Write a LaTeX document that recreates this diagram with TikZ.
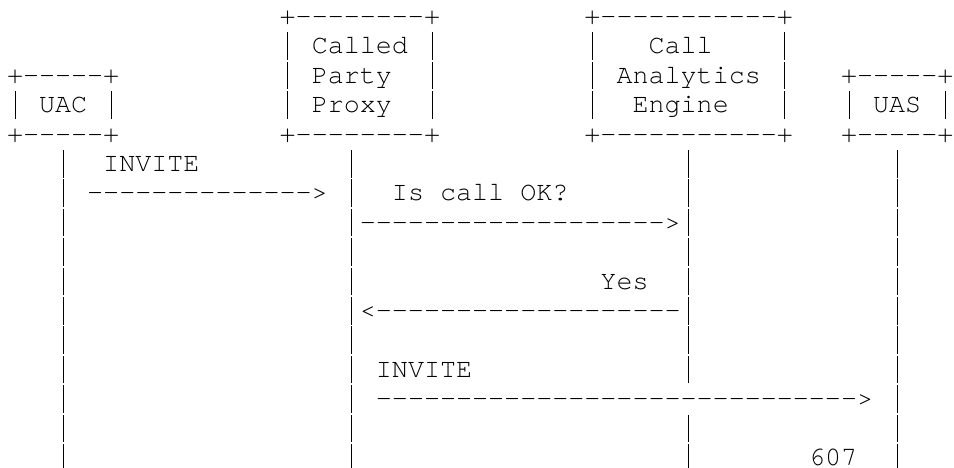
\documentclass[tikz,border=0pt]{standalone}
\usepackage{fontspec}
\setmonofont{texgyrecursor-regular.otf}
\usepackage{tikz}
\tikzset{
  ascii/.style    = { font=\ttfamily\fontsize{26.73bp}{29.39bp}\selectfont,
                      anchor=base west, inner sep=0pt, outer sep=0pt },
  lifeline/.style = { ascii },
  message/.style  = { ascii },
}
% a bar as tall as the reference's
\newcommand\vb{\makebox[0.6em]{\rule[-6bp]{1bp}{27.5bp}}}

\begin{document}
\begin{tikzpicture}[
  x=16.04bp, y=-29.39bp,
]
  \useasboundingbox [fill=white] (-7bp,24.6bp) rectangle (947bp,-443.4bp);

  % boxes
  \node (proxytop)   [ascii] at (17,0) {+--------+};
  \node (enginetop)  [ascii] at (36,0) {+-----------+};
  \node (proxy1)     [ascii] at (17,1) {\vb~Called~\vb};
  \node (engine1)    [ascii] at (36,1) {\vb~~~Call~~~~\vb};
  \node (uactop)     [ascii] at (0,2)  {+-----+};
  \node (proxy2)     [ascii] at (17,2) {\vb~Party~~\vb};
  \node (engine2)    [ascii] at (36,2) {\vb~Analytics~\vb};
  \node (uastop)     [ascii] at (52,2) {+-----+};
  \node (uac)        [ascii] at (0,3)  {\vb~UAC~\vb};
  \node (proxy3)     [ascii] at (17,3) {\vb~Proxy~~\vb};
  \node (engine3)    [ascii] at (36,3) {\vb~~Engine~~~\vb};
  \node (uas)        [ascii] at (52,3) {\vb~UAS~\vb};
  \node (uacbot)     [ascii] at (0,4)  {+-----+};
  \node (proxybot)   [ascii] at (17,4) {+--------+};
  \node (enginebot)  [ascii] at (36,4) {+-----------+};
  \node (uasbot)     [ascii] at (52,4) {+-----+};

  % lifelines
  \foreach \r in {5,...,15} {
    \node (uacline\r)   [lifeline] at (3,\r)  {\vb};
    \node (proxyline\r) [lifeline] at (21,\r) {\vb};
    \node (uasline\r)   [lifeline] at (55,\r) {\vb};
  }
  \foreach \r in {5,...,12,14,15}
    \node (engineline\r) [lifeline] at (42,\r) {\vb};

  % messages
  \node (invite)     [message] at (6,5)   {INVITE};
  \node (invitearr)  [message] at (5,6)   {-------------->};
  \node (query)      [message] at (24,6)  {Is call OK?};
  \node (queryarr)   [message] at (22,7)  {------------------->};
  \node (answer)     [message] at (37,9)  {Yes};
  \node (answerarr)  [message] at (22,10) {<-------------------};
  \node (forward)    [message] at (23,12) {INVITE};
  \node (forwardarr) [message] at (23,13) {------------------------------>};
  \node (reject)     [message] at (50,15) {607};
\end{tikzpicture}
\end{document}
